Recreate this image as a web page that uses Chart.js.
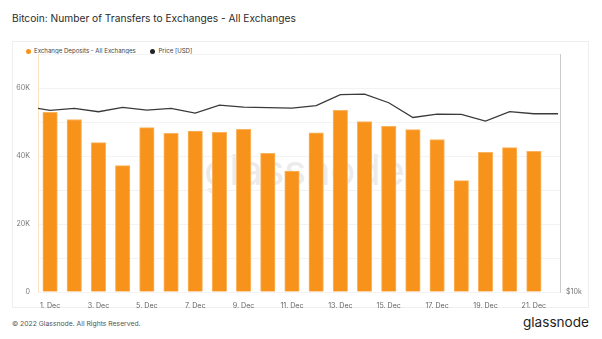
<!DOCTYPE html>
<html>
<head>
<meta charset="utf-8">
<script src="https://cdn.jsdelivr.net/npm/chart.js@4"></script>
<style>
  body { margin: 0; width: 602px; height: 339px; background: #fff; font-family: Inter, "Noto Sans", sans-serif; position: relative; overflow: hidden; }
  #title { position: absolute; left: 12px; top: 12px; font-size: 10.2px; color: #2a2a2a; white-space: nowrap; }
  #frame { position: absolute; left: 12px; top: 41px; width: 575px; height: 265px; border: 1px solid #eeeeee; }
  #legend { position: absolute; left: 26px; top: 47px; font-size: 6.1px; color: #444; white-space: nowrap; }
  #legend span.dot { display: inline-block; width: 5px; height: 5px; border-radius: 50%; margin-right: 3px; vertical-align: -0.5px; }
  #legend span.item { margin-right: 13px; }
  #wm { position: absolute; left: 204px; top: 149px; font-size: 42px; line-height: 1; color: #ebebeb; letter-spacing: -0.4px; white-space: nowrap; }
  #chart { position: absolute; left: 13px; top: 42px; }
  #foot { position: absolute; left: 12px; top: 319px; font-size: 6.8px; color: #555; white-space: nowrap; }
  #logo { position: absolute; right: 13px; top: 314px; font-size: 13.6px; color: #1e1e1e; white-space: nowrap; }
</style>
</head>
<body>
<div id="title">Bitcoin: Number of Transfers to Exchanges - All Exchanges</div>
<div id="frame"></div>
<div id="wm">glassnode</div>
<div id="legend">
  <span class="item"><span class="dot" style="background:#f7931a"></span>Exchange Deposits - All Exchanges</span>
  <span class="item"><span class="dot" style="background:#222"></span>Price [USD]</span>
</div>
<canvas id="chart" width="576" height="266"></canvas>
<div id="foot">© 2022 Glassnode. All Rights Reserved.</div>
<div id="logo">glassnode</div>

<script>
// one entry per day, 30 Nov .. 22 Dec 2022 (index 0 = 1 Dec)
const dayIndex = [-1, 0, 1, 2, 3, 4, 5, 6, 7, 8, 9, 10, 11, 12, 13, 14, 15, 16, 17, 18, 19, 20, 21];

const deposits = [null, 52900, 50800, 44000, 37200, 48400, 46700, 47400, 47000, 47900, 40800,
                  35600, 46900, 53500, 50200, 48800, 47800, 44900, 32800, 41100, 42500, 41400, null];

const prices = [17180, 16980, 17080, 16915, 17130, 16995, 17080, 16847, 17245, 17145, 17115,
                17095, 17215, 17775, 17808, 17365, 16634, 16796, 16780, 16456, 16915, 16815, 16815];

const xTickLabels = ['1. Dec', '3. Dec', '5. Dec', '7. Dec', '9. Dec', '11. Dec',
                     '13. Dec', '15. Dec', '17. Dec', '19. Dec', '21. Dec'];
const yTickLabels = { 0: '0', 20000: '20K', 40000: '40K', 60000: '60K' };

const barPoints = dayIndex.map((d, i) => ({ x: d, y: deposits[i] })).filter(p => p.y !== null);
const pricePoints = dayIndex.map((d, i) => ({ x: d, y: prices[i] }));

const tickFont = { family: 'Inter', size: 7.1 };

new Chart(document.getElementById('chart'), {
    data: {
        datasets: [
            {
                type: 'line',
                label: 'Price [USD]',
                data: pricePoints,
                yAxisID: 'price',
                borderColor: '#3a3a3a',
                borderWidth: 1.3,
                pointRadius: 0,
                tension: 0,
                order: 0
            },
            {
                type: 'bar',
                label: 'Exchange Deposits - All Exchanges',
                data: barPoints,
                yAxisID: 'y',
                backgroundColor: '#f7931a',
                borderColor: '#fab460',
                borderWidth: 1,
                barThickness: 14.5,
                order: 1
            }
        ]
    },
    options: {
        responsive: false,
        animation: false,
        layout: { padding: 0 },
        plugins: { legend: { display: false }, tooltip: { enabled: false } },
        scales: {
            x: {
                type: 'linear',
                offset: false,
                min: -0.5,
                max: 21.08,
                grid: { display: false },
                border: { display: false },
                ticks: {
                    stepSize: 2,
                    includeBounds: false,
                    autoSkip: false,
                    maxRotation: 0,
                    padding: 2,
                    color: '#666',
                    font: tickFont,
                    callback: v => (v >= 0 && v % 2 === 0) ? xTickLabels[v / 2] : ''
                },
                afterFit: s => { s.height = 16; }
            },
            y: {
                position: 'left',
                min: 0,
                max: 70000,
                grid: { color: '#f3f3f3', drawTicks: false },
                border: { color: '#fde3c6' },
                ticks: {
                    stepSize: 10000,
                    padding: 8,
                    color: '#777',
                    font: tickFont,
                    callback: v => yTickLabels[v] || ''
                },
                afterFit: s => { s.width = 25; }
            },
            price: {
                type: 'logarithmic',
                position: 'right',
                min: 10000,
                max: 20000,
                grid: { display: false, drawTicks: false },
                border: { color: '#cccccc' },
                ticks: {
                    padding: 6,
                    color: '#777',
                    font: tickFont,
                    callback: v => v === 10000 ? '$10k' : ''
                },
                afterFit: s => { s.width = 29; }
            }
        }
    }
});
</script>
</body>
</html>
